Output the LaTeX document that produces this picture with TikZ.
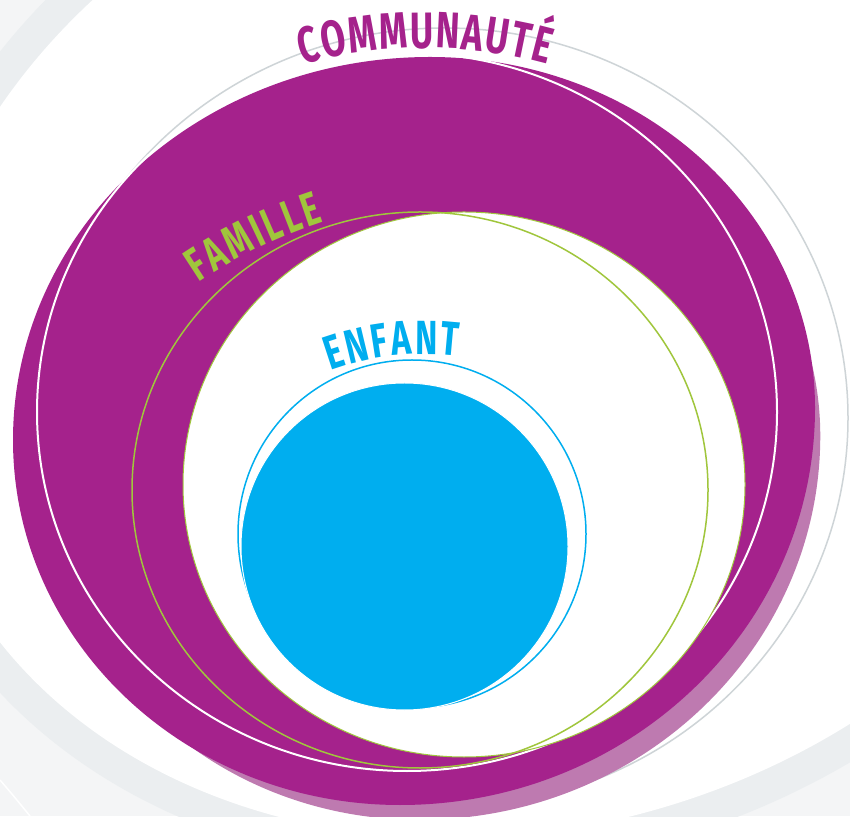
\documentclass[tikz,border=0pt]{standalone}
\usepackage{fontspec}
\newfontfamily\labelfont[FakeStretch=0.70]{Fira Sans}
\usepackage{tikz}
\usetikzlibrary{decorations.text}
\definecolor{commpurple}{RGB}{165,34,140}
\definecolor{commshadow}{RGB}{190,122,176}
\definecolor{famgreen}{RGB}{160,198,60}
\definecolor{enfblue}{RGB}{0,174,239}
\definecolor{ringgrey}{RGB}{206,212,215}
\definecolor{bgband}{RGB}{235,238,240}
\definecolor{bglight}{RGB}{244,245,246}
\newcommand\commblob{(815,408) arc [start angle=0, end angle=90, x radius=385, y radius=351]
  arc [start angle=90, end angle=180, x radius=417, y radius=383]
  arc [start angle=180, end angle=270, x radius=387, y radius=365]
  arc [start angle=270, end angle=360, x radius=415, y radius=397] -- cycle}
\begin{document}
\begin{tikzpicture}[x=1pt,y=1pt,
    ring/.style={line width=1.5},
    arclabel/.style={decorate,decoration={text along path,text align=fit to path,
      text color=#1}}]
            \useasboundingbox (0,0) rectangle (850,816);
            \clip (0,0) rectangle (850,816);
            \fill[bglight] (0,0) rectangle (850,816);
            \fill[bgband] (523.4,493.8) ellipse [x radius=656, y radius=538, rotate=17.2];
            \fill[white] (523.4,493.8) ellipse [x radius=623, y radius=505, rotate=17.2];
            \draw[white,line width=1.5] (0,36) .. controls (12,22) .. (30,0);
            \draw[ringgrey,ring] (444.5,398) ellipse [x radius=403.5, y radius=390];
            \begin{scope}[shift={(432.5,364.6)},scale=0.967,shift={(-414,-392)}]
                \fill[commshadow] \commblob;
            \end{scope}
            \fill[commpurple] \commblob;
            \draw[white,line width=2] (407,404) ellipse [x radius=370, y radius=359];
            \filldraw[fill=white,draw=famgreen,line width=1] (464,331.5) ellipse [x radius=281, y radius=272.5];
            \draw[famgreen,ring] (420,326) ellipse [x radius=288, y radius=278];
            \draw[enfblue,ring] (412,282) circle [radius=174];
            \filldraw[fill=enfblue,draw=white,line width=1] (404.5,269.5) circle [radius=163.5];
            \path[arclabel=commpurple,decoration={text={|\labelfont\bfseries\fontsize{51}{51}\selectfont|COMMUNAUTÉ}}]
                (425,308) ++(105.4:460) arc [start angle=105.4, end angle=74.6, radius=460];
            \path[arclabel=famgreen,decoration={text={|\labelfont\bfseries\fontsize{47}{47}\selectfont|FAMILLE}}]
                (478.4,118.7) ++(124:500) arc [start angle=124, end angle=108, radius=500];
            \path[arclabel=enfblue,decoration={text={|\labelfont\bfseries\fontsize{48}{48}\selectfont|ENFANT}}]
                (424.5,186.7) ++(110:275) arc [start angle=110, end angle=83, radius=275];
    \end{tikzpicture}
\end{document}
